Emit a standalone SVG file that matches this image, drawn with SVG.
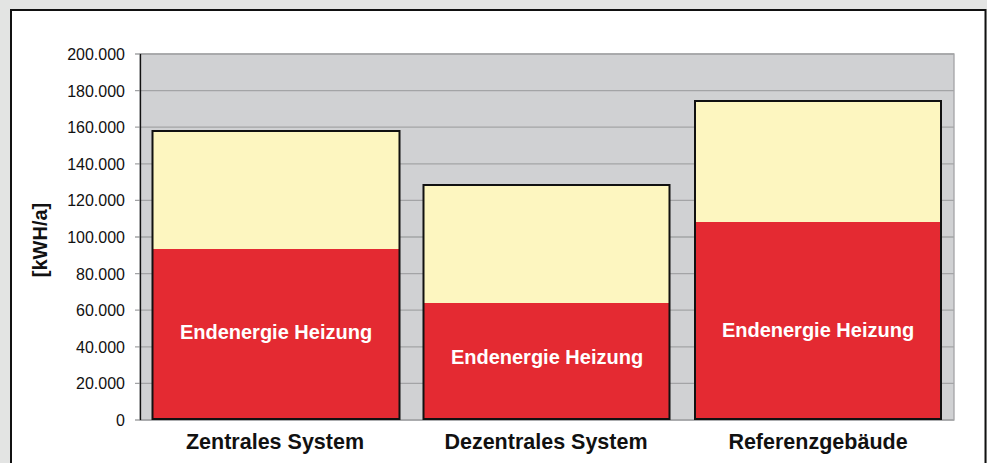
<svg xmlns="http://www.w3.org/2000/svg" width="987" height="463" viewBox="0 0 987 463">
<style>
.ylab{font-family:"Liberation Sans",Arial,sans-serif;font-size:16px;fill:#111;text-anchor:end}
.grid{stroke:#a3a4a6;stroke-width:1.3}
.bar{stroke:#111;stroke-width:2}
.top{fill:#fdf6c0}
.bot{fill:#e42a32}
.inlab{font-family:"Liberation Sans",Arial,sans-serif;font-size:20px;font-weight:bold;fill:#fff;text-anchor:middle}
.cat{font-family:"Liberation Sans",Arial,sans-serif;font-size:21.5px;font-weight:bold;fill:#111;text-anchor:middle}
</style>
<rect x="0" y="0" width="987" height="463" fill="#e3e4e3"/>
<rect x="11" y="10" width="974.5" height="470" fill="#fff" stroke="#111" stroke-width="2"/>
<g id="plot-area">
<rect x="140" y="54" width="814" height="366" fill="#d0d1d3" stroke="#a3a4a6" stroke-width="1.3"/>
<g class="grid">
<line x1="135" y1="54" x2="954" y2="54"/>
<line x1="135" y1="90.6" x2="954" y2="90.6"/>
<line x1="135" y1="127.2" x2="954" y2="127.2"/>
<line x1="135" y1="163.8" x2="954" y2="163.8"/>
<line x1="135" y1="200.4" x2="954" y2="200.4"/>
<line x1="135" y1="237" x2="954" y2="237"/>
<line x1="135" y1="273.6" x2="954" y2="273.6"/>
<line x1="135" y1="310.2" x2="954" y2="310.2"/>
<line x1="135" y1="346.8" x2="954" y2="346.8"/>
<line x1="135" y1="383.4" x2="954" y2="383.4"/>
<line x1="135" y1="420" x2="954" y2="420"/>
</g>
<line x1="140.5" y1="54" x2="140.5" y2="420" stroke="#111" stroke-width="1.3"/>
</g>
<g id="y-axis">
<text class="ylab" x="125" y="60">200.000</text>
<text class="ylab" x="125" y="96.6">180.000</text>
<text class="ylab" x="125" y="133.2">160.000</text>
<text class="ylab" x="125" y="169.8">140.000</text>
<text class="ylab" x="125" y="206.4">120.000</text>
<text class="ylab" x="125" y="243">100.000</text>
<text class="ylab" x="125" y="279.6">80.000</text>
<text class="ylab" x="125" y="316.2">60.000</text>
<text class="ylab" x="125" y="352.8">40.000</text>
<text class="ylab" x="125" y="389.4">20.000</text>
<text class="ylab" x="125" y="426">0</text>
<text transform="translate(47,240) rotate(-90)" font-family="'Liberation Sans',Arial,sans-serif" font-size="20" font-weight="bold" fill="#111" text-anchor="middle">[kWH/a]</text>
</g>
<g id="bar-zentral">
<rect class="top" x="152.5" y="131" width="247" height="118"/>
<rect class="bot" x="152.5" y="249" width="247" height="170"/>
<rect class="bar" x="152.5" y="131" width="247" height="288" fill="none"/>
<text class="inlab" x="276" y="339">Endenergie Heizung</text>
<text class="cat" x="275" y="449">Zentrales System</text>
</g>
<g id="bar-dezentral">
<rect class="top" x="423.5" y="185" width="246" height="118"/>
<rect class="bot" x="423.5" y="303" width="246" height="116"/>
<rect class="bar" x="423.5" y="185" width="246" height="234" fill="none"/>
<text class="inlab" x="547" y="364">Endenergie Heizung</text>
<text class="cat" x="546" y="449">Dezentrales System</text>
</g>
<g id="bar-referenz">
<rect class="top" x="695" y="101" width="246" height="121"/>
<rect class="bot" x="695" y="222" width="246" height="197"/>
<rect class="bar" x="695" y="101" width="246" height="318" fill="none"/>
<text class="inlab" x="818" y="337">Endenergie Heizung</text>
<text class="cat" x="818" y="449">Referenzgebäude</text>
</g>
</svg>
